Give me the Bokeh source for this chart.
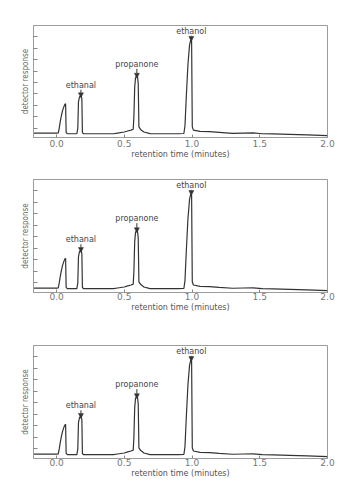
from bokeh.plotting import figure
from bokeh.layouts import column
from bokeh.models import (Range1d, FixedTicker, Arrow, NormalHead, PrintfTickFormatter,
                          CustomLabelingPolicy)
from bokeh.core.properties import value
from bokeh.embed import file_html
from bokeh.resources import INLINE

# chromatogram trace (retention time in minutes, detector response in tick units)
time_min = [-0.17, 0.0, 0.013, 0.02, 0.028, 0.036, 0.045, 0.055, 0.063, 0.067, 0.071, 0.08,
            0.12, 0.15, 0.157, 0.162, 0.17, 0.182, 0.187, 0.191, 0.2, 0.3, 0.42,
            0.45, 0.5, 0.525, 0.55, 0.566, 0.571, 0.577, 0.583, 0.589, 0.598, 0.603, 0.608,
            0.62, 0.645, 0.69, 0.8, 0.9, 0.94, 0.948, 0.958, 0.97, 0.982, 0.991, 0.997,
            1.002, 1.01, 1.06, 1.13, 1.2, 1.3, 1.38, 1.45, 1.52, 1.6, 1.72, 1.85, 2.0]
response = [0.55, 0.55, 0.58, 1.0, 1.6, 2.1, 2.55, 2.9, 3.1, 3.14, 0.62, 0.5,
            0.5, 0.5, 1.0, 3.3, 3.75, 3.8, 3.55, 0.6, 0.5, 0.5, 0.5,
            0.56, 0.65, 0.74, 0.82, 0.9, 2.0, 4.6, 5.4, 5.52, 5.48, 4.9, 1.1,
            0.88, 0.65, 0.51, 0.5, 0.5, 0.52, 1.2, 3.8, 6.6, 8.3, 8.75, 8.6,
            1.1, 0.82, 0.7, 0.68, 0.62, 0.54, 0.56, 0.57, 0.5, 0.48, 0.45, 0.4, 0.34]

peak_names = ["ethanal", "propanone", "ethanol"]
peak_times = [0.18, 0.593, 0.995]
peak_tops = [3.8, 5.52, 8.75]
label_heights = [4.76, 6.6, 9.5]

x_ticks = [0.0, 0.5, 1.0, 1.5, 2.0]
y_ticks = [1, 2, 3, 4, 5, 6, 7, 8, 9]

FRAME = "#9c9c9c"
INK = "#333333"


def panel(height, left, right, top, bottom, tick_standoff, title_standoff):
    p = figure(width=353, height=height,
               x_range=Range1d(-0.17, 2.0), y_range=Range1d(0.17, 10.0),
               output_backend="svg", toolbar_location=None,
               min_border_left=left, min_border_right=right,
               min_border_top=top, min_border_bottom=bottom)
    p.grid.visible = False
    p.outline_line_color = FRAME
    p.outline_line_width = 1
    p.background_fill_color = "white"
    p.border_fill_color = "white"

    xa = p.xaxis[0]
    xa.ticker = FixedTicker(ticks=x_ticks)
    xa.formatter = PrintfTickFormatter(format="%.1f")
    xa.minor_tick_line_color = None
    xa.major_tick_in = 3
    xa.major_tick_out = 0
    xa.major_tick_line_color = "#888888"
    xa.axis_line_color = FRAME
    xa.major_label_text_font = "DejaVu Sans"
    xa.major_label_text_font_size = "9px"
    xa.major_label_text_color = "#777777"
    xa.major_label_standoff = tick_standoff
    xa.axis_label = "retention time (minutes)"
    xa.axis_label_text_font = "DejaVu Sans"
    xa.axis_label_text_font_size = "8px"
    xa.axis_label_text_font_style = "normal"
    xa.axis_label_text_color = "#555555"
    xa.axis_label_standoff = title_standoff

    ya = p.yaxis[0]
    ya.ticker = FixedTicker(ticks=y_ticks)
    ya.minor_tick_line_color = None
    ya.major_tick_in = 4
    ya.major_tick_out = 0
    ya.major_tick_line_color = "#888888"
    ya.axis_line_color = FRAME
    ya.major_label_policy = CustomLabelingPolicy(
        code="const all = [...indices]; for (const i of all) indices.unset(i);")
    ya.major_label_text_font_size = "1px"
    ya.major_label_standoff = 0
    ya.axis_label = "detector response"
    ya.axis_label_text_font = "'Liberation Sans Narrow', 'DejaVu Sans Condensed', sans-serif"
    ya.axis_label_text_font_size = "8px"
    ya.axis_label_text_font_style = "normal"
    ya.axis_label_text_color = "#666666"
    ya.axis_label_standoff = 0

    p.line(time_min, response, line_color=INK, line_width=1.2)

    p.text(x=peak_times, y=label_heights, text=peak_names,
           text_font=value("DejaVu Sans"), text_font_size="8px",
           text_color="#444444", text_align="center", text_baseline="middle")
    for xt, top_y, ly in zip(peak_times, peak_tops, label_heights):
        p.add_layout(Arrow(end=NormalHead(size=5, fill_color=INK, line_color=INK, line_width=0.5),
                           x_start=xt, y_start=ly - 0.4, x_end=xt, y_end=top_y - 0.15,
                           line_color=INK, line_width=1))
    return p


p1 = panel(165, 32, 26, 25, 28, 2, 0)
p2 = panel(165, 33, 21, 14, 38, 0, 0)
p3 = panel(170, 33, 21, 15, 42, 0, 0)

layout = column(p1, p2, p3, spacing=0)
open("out.html", "w").write(file_html(layout, INLINE))
